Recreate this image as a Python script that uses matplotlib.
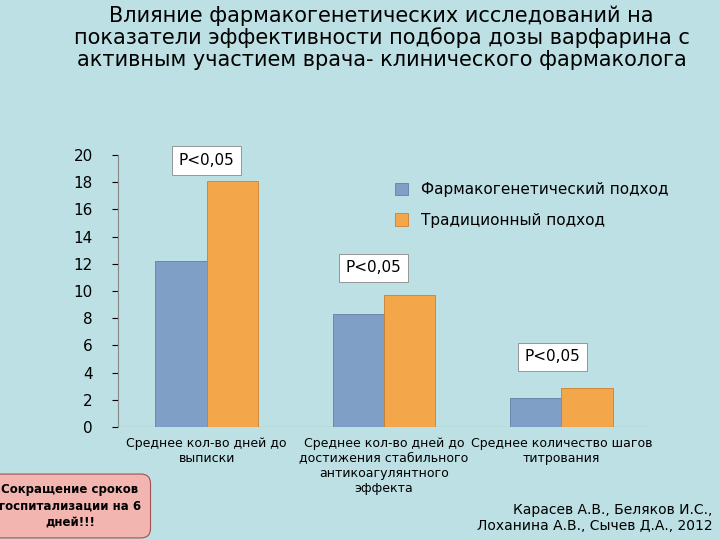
import matplotlib
matplotlib.use("Agg")
import matplotlib.pyplot as plt
import numpy as np

categories = ["Среднее кол-во дней до\nвыписки",
              "Среднее кол-во дней до\nдостижения стабильного\nантикоагулянтного\nэффекта",
              "Среднее количество шагов\nтитрования"]
pharmaco = [12.2, 8.3, 2.1]
traditional = [18.1, 9.7, 2.9]
pvals = ["P<0,05", "P<0,05", "P<0,05"]
yticks = [0, 2, 4, 6, 8, 10, 12, 14, 16, 18, 20]

bg = "#bde0e4"
fig = plt.figure(figsize=(7.2, 5.4), dpi=100, facecolor=bg)
ax = fig.add_axes([118/720, 1-427/540, 532/720, 272/540], facecolor=bg)

x = np.arange(3)
w = 0.29
ax.bar(x - w/2, pharmaco, w, color="#7f9fc6", edgecolor="#5f7fa6", linewidth=0.6, label="Фармакогенетический подход")
ax.bar(x + w/2, traditional, w, color="#f4a64a", edgecolor="#c98030", linewidth=0.6, label="Традиционный подход")
ax.set_xlim(-0.5, 2.5)
ax.set_ylim(0, 20)
ax.set_yticks(yticks)
ax.tick_params(axis="y", labelsize=11, length=4, pad=14)
ax.set_xticks([])
for s in ["top", "right", "bottom"]:
    ax.spines[s].set_visible(False)
ax.spines["left"].set_color("#888888")
ax.axhline(0, color="#888888", lw=0.8)

for i, c in enumerate(categories):
    ax.text(x[i], -0.7, c, ha="center", va="top", fontsize=9)

boxy = [19.6, 11.7, 5.15]
boxx = [0.0, 0.94, 1.95]
for i in range(3):
    ax.text(boxx[i], boxy[i], pvals[i], ha="center", va="center", fontsize=11,
            bbox=dict(boxstyle="square,pad=0.45", fc="white", ec="#888888", lw=0.6))

leg = ax.legend(loc="upper right", bbox_to_anchor=(1.06, 0.95), frameon=False,
                fontsize=11, handlelength=0.9, handleheight=0.9, labelspacing=1.0)

fig.text(0.53, 0.99, "Влияние фармакогенетических исследований на\nпоказатели эффективности подбора дозы варфарина с\nактивным участием врача- клинического фармаколога",
         ha="center", va="top", fontsize=15, linespacing=1.1)

fig.text(70/720, 1-506/540, "Сокращение сроков\nгоспитализации на 6\nдней!!!", ha="center", va="center",
         fontsize=8.5, fontweight="bold", linespacing=1.3,
         bbox=dict(boxstyle="round,pad=0.8", fc="#f2b5b0", ec="#a05050", lw=0.8))
fig.text(0.99, 1-518/540, "Карасев А.В., Беляков И.С.,\nЛоханина А.В., Сычев Д.А., 2012", ha="right", va="center",
         fontsize=10)

fig.savefig("out.png", dpi=100, facecolor=bg)
